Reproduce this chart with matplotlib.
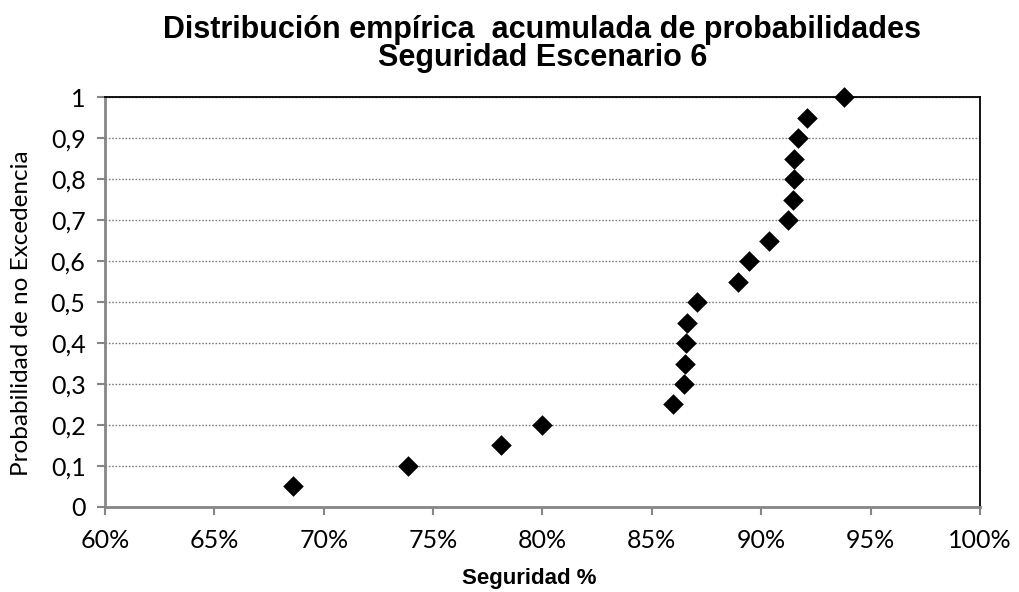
import numpy as np
import matplotlib.pyplot as plt
from matplotlib.ticker import FuncFormatter

# data
seguridad = [68.58, 73.87, 78.09, 80.0, 85.95, 86.48, 86.51, 86.56, 86.59, 87.05,
             88.95, 89.45, 90.37, 91.24, 91.43, 91.51, 91.51, 91.66, 92.07, 93.76]
probabilidad = [0.05, 0.10, 0.15, 0.20, 0.25, 0.30, 0.35, 0.40, 0.45, 0.50,
                0.55, 0.60, 0.65, 0.70, 0.75, 0.80, 0.85, 0.90, 0.95, 1.00]

x_ticks = [60, 65, 70, 75, 80, 85, 90, 95, 100]
y_ticks = [0, 0.1, 0.2, 0.3, 0.4, 0.5, 0.6, 0.7, 0.8, 0.9, 1.0]

title = "Distribución empírica  acumulada de probabilidades\nSeguridad Escenario 6"
xlabel = "Seguridad %"
ylabel = "Probabilidad de no Excedencia"

tick_font = "Lato"
grey = "#868686"

fig = plt.figure(figsize=(10.2, 5.92), dpi=100)
ax = fig.add_axes([0.1029, 0.1436, 0.8579, 0.6925])

ax.scatter(seguridad, probabilidad, marker="D", s=10.5**2, color="black",
           zorder=3, clip_on=False, linewidths=0)

ax.set_xlim(60, 100)
ax.set_ylim(0, 1)
ax.set_xticks(x_ticks)
ax.set_yticks(y_ticks)
ax.xaxis.set_major_formatter(FuncFormatter(lambda v, p: "{:.0f}%".format(v)))
ax.yaxis.set_major_formatter(FuncFormatter(
    lambda v, p: "0" if v == 0 else ("1" if v == 1 else "{:.1f}".format(v).replace(".", ","))))

# gridlines
ax.grid(axis="y", linestyle=(0, (1.2, 1.2)), color="#7f7f7f", linewidth=1.0)
ax.set_axisbelow(True)

for s in ["left", "bottom"]:
    ax.spines[s].set_color(grey)
    ax.spines[s].set_linewidth(2)
for s in ["top", "right"]:
    ax.spines[s].set_color("black")
    ax.spines[s].set_linewidth(1.3)

ax.tick_params(axis="both", direction="out", length=6, width=1.5, color=grey,
               labelsize=18)
for lbl in ax.get_xticklabels() + ax.get_yticklabels():
    lbl.set_fontfamily(tick_font)
ax.tick_params(axis="x", pad=10)
ax.tick_params(axis="y", pad=8)

ax.set_title(title, fontsize=22, fontweight="bold", family="Liberation Sans",
             pad=22, linespacing=0.93)
ax.set_xlabel(xlabel, fontsize=16, fontweight="bold", family="Liberation Sans")
ax.set_ylabel(ylabel, fontsize=17.5, family=tick_font)
ax.xaxis.set_label_coords(0.485, -0.149)
ax.yaxis.set_label_coords(-0.083, 0.473)

plt.savefig("out.png", dpi=100)
